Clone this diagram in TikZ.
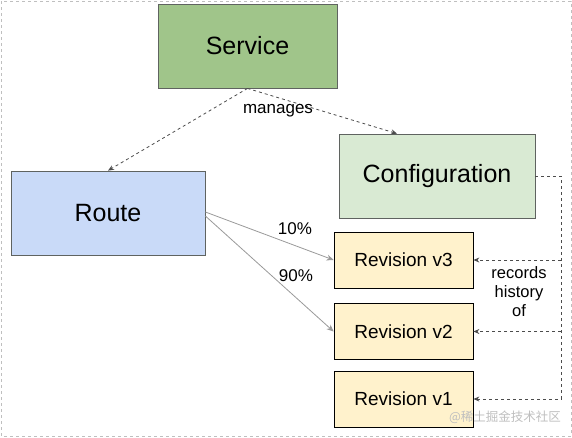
\documentclass[tikz,border=0pt]{standalone}
\usepackage{fontspec}
\setmainfont{Liberation Sans}
\newfontfamily\cjkfont{Noto Sans CJK SC}
\usepackage{xcolor}
\usetikzlibrary{arrows.meta}
\definecolor{servicegreen}{HTML}{A0C58A}
\definecolor{routeblue}{HTML}{C9DAF8}
\definecolor{configgreen}{HTML}{D9EAD3}
\definecolor{revyellow}{HTML}{FFF2CC}
\definecolor{boxline}{HTML}{5F6360}
\tikzstyle{bigbox} = [draw=boxline, thick, rectangle, inner sep=0pt,
    minimum height=84pt, font=\fontsize{25}{28}\selectfont]
\tikzstyle{revbox} = [draw=black, thick, rectangle, fill=revyellow, inner sep=0pt,
    minimum width=139pt, minimum height=56pt, font=\fontsize{19}{22}\selectfont]
\tikzstyle{manage} = [draw=black!70, thick, dashed, -{Stealth[length=6pt,width=5pt]}]
\tikzstyle{traffic} = [draw=black!40, thick, -{Stealth[length=7pt,width=6pt]}]
\tikzstyle{smalltext} = [font=\fontsize{17}{19}\selectfont, inner sep=1pt]

\begin{document}
\begin{tikzpicture}[x=1pt,y=-1pt]
\useasboundingbox (0,0) rectangle (572,437);
\draw[black!25, dashed] (1,1) rectangle (571,436);
% boxes
\node[bigbox, fill=servicegreen, minimum width=179pt] (service) at (247.5,46) {Service};
\node[bigbox, fill=routeblue, minimum width=194pt] (route) at (108,213) {Route};
\node[bigbox, fill=configgreen, minimum width=196pt] (config) at (437,176) {Configuration};
\node[revbox] (v3) at (403.5,260) {Revision v3};
\node[revbox] (v2) at (403.5,331.5) {Revision v2};
\node[revbox] (v1) at (403.5,399) {Revision v1};
% service manages route and configuration
\draw[manage] (service.south) -- (route.north);
\draw[manage] (service.south) -- (config.north -| 397,0);
\node[smalltext] (manages) at (278,111) {manages};
% traffic split
\draw[traffic] (route.east) ++(0,-1) -- (v3.west);
\draw[traffic] (route.east) ++(0,3) -- (v2.west);
\node[smalltext] (ten) at (295,229) {10\%};
\node[smalltext] (ninety) at (296,276) {90\%};
% history
\coordinate (bus) at (561,176);
\draw[manage] (config.east) -- (bus) |- (v1.east);
\draw[manage] (v3.east -| bus) -- (v3.east);
\draw[manage] (v2.east -| bus) -- (v2.east);
\node[smalltext, align=center, font=\fontsize{16.5}{19}\selectfont] (records) at (519,292) {records\\history\\of};
\node[text=black!25, font=\cjkfont\fontsize{12.5}{14}\selectfont] (mark) at (505,417) {@稀土掘金技术社区};
\end{tikzpicture}
\end{document}
